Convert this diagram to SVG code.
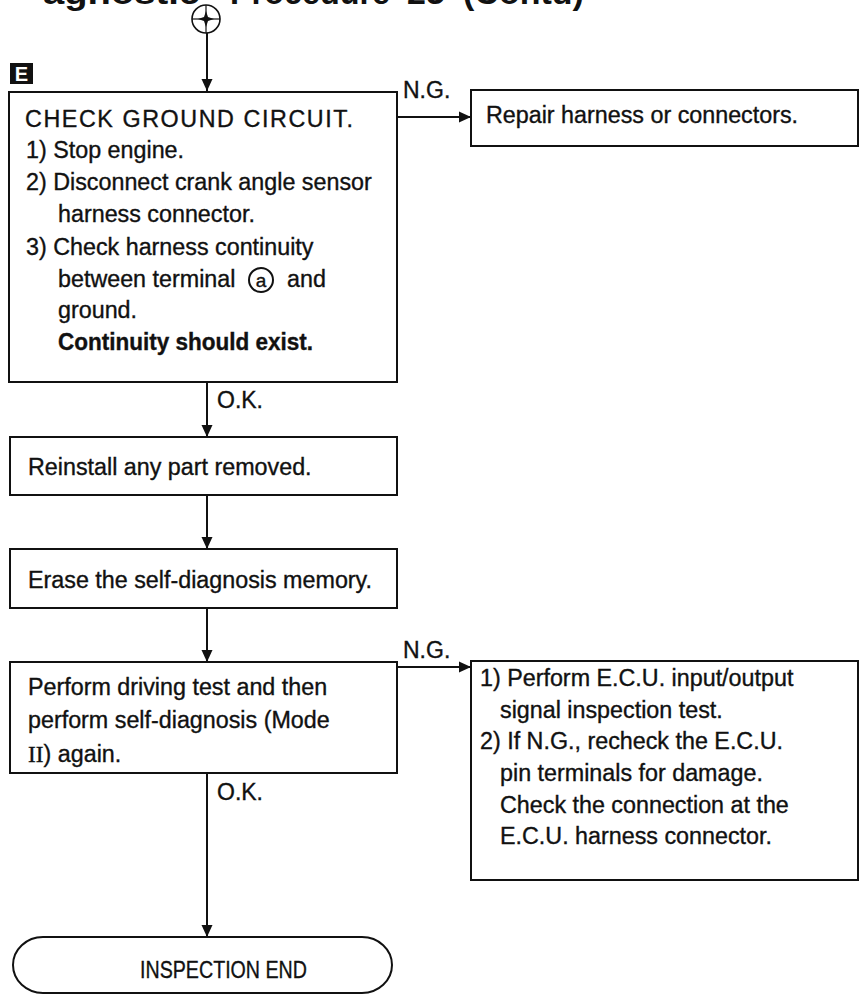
<svg xmlns="http://www.w3.org/2000/svg" width="862" height="994" viewBox="0 0 862 994">
<style>
.box{fill:#fff;stroke:#111;stroke-width:2}
.t{font-family:"Liberation Sans",Arial,sans-serif;font-size:23.3px;fill:#111;stroke:#111;stroke-width:0.35}
.b{font-weight:bold}
.ln{fill:none;stroke:#111;stroke-width:2}
.lbl{font-family:"Liberation Sans",Arial,sans-serif;font-size:23px;fill:#111;stroke:#111;stroke-width:0.35}
.ttl{font-family:"Liberation Sans",Arial,sans-serif;font-size:34px;font-weight:bold;fill:#111}
</style>
<defs>
<marker id="arr" viewBox="0 0 12 12" refX="12" refY="6" markerWidth="12" markerHeight="12" markerUnits="userSpaceOnUse" orient="auto">
<path d="M0,0.5 L12,6 L0,11.5 Z" fill="#111"/>
</marker>
</defs>
<rect width="862" height="994" fill="#fff"/>
<g id="title">
<text class="ttl" x="43" y="4" textLength="157" lengthAdjust="spacingAndGlyphs">agnostic</text>
<text class="ttl" x="230" y="4" textLength="160" lengthAdjust="spacingAndGlyphs">Procedure</text>
<text class="ttl" x="407" y="4">25</text>
<text class="ttl" x="463" y="4">(Contd)</text>
</g>

<g id="start">
<circle cx="206" cy="19" r="14" fill="#fff" stroke="#111" stroke-width="1.6"/>
<line x1="192" y1="19" x2="220" y2="19" stroke="#111" stroke-width="1.2"/>
<line x1="206" y1="5" x2="206" y2="33" stroke="#111" stroke-width="1.2"/>
<path d="M206,11 L208,17 L214,19 L208,21 L206,27 L204,21 L198,19 L204,17 Z" fill="#111"/>
</g>

<g id="badgeE">
<rect x="10" y="63" width="23" height="21" fill="#111"/>
<text x="21.5" y="81" style="font-family:'Liberation Sans',Arial,sans-serif;font-size:20px;font-weight:bold;fill:#fff" text-anchor="middle">E</text>
</g>

<g id="connectors">
<path class="ln" d="M207,33 V91" marker-end="url(#arr)"/>
<path class="ln" d="M397,117 H471" marker-end="url(#arr)"/>
<text class="lbl" x="403" y="98">N.G.</text>
<path class="ln" d="M207,382 V437" marker-end="url(#arr)"/>
<text class="lbl" x="217" y="408">O.K.</text>
<path class="ln" d="M207,495 V549" marker-end="url(#arr)"/>
<path class="ln" d="M207,608 V662" marker-end="url(#arr)"/>
<path class="ln" d="M397,667 H471" marker-end="url(#arr)"/>
<text class="lbl" x="403" y="658">N.G.</text>
<path class="ln" d="M207,773 V937" marker-end="url(#arr)"/>
<text class="lbl" x="217" y="800">O.K.</text>
</g>

<g id="checkGround">
<rect class="box" x="9" y="92" width="388" height="290"/>
<text class="t" x="25" y="127" textLength="328" lengthAdjust="spacing">CHECK GROUND CIRCUIT.</text>
<text class="t" x="26" y="158">1) Stop engine.</text>
<text class="t" x="26" y="190">2) Disconnect crank angle sensor</text>
<text class="t" x="58" y="222">harness connector.</text>
<text class="t" x="26" y="255">3) Check harness continuity</text>
<text class="t" x="58" y="287">between terminal</text>
<circle cx="261" cy="280" r="12" fill="none" stroke="#111" stroke-width="2"/>
<text class="t" x="261" y="287" text-anchor="middle" style="font-size:19px">a</text>
<text class="t" x="287" y="287">and</text>
<text class="t" x="58" y="318">ground.</text>
<text class="t b" x="58" y="350" textLength="255" lengthAdjust="spacingAndGlyphs">Continuity should exist.</text>
</g>

<g id="repair">
<rect class="box" x="471" y="90" width="387" height="56"/>
<text class="t" x="486" y="123">Repair harness or connectors.</text>
</g>

<g id="reinstall">
<rect class="box" x="10" y="437" width="387" height="58"/>
<text class="t" x="28" y="475">Reinstall any part removed.</text>
</g>

<g id="erase">
<rect class="box" x="10" y="549" width="387" height="59"/>
<text class="t" x="28" y="588">Erase the self-diagnosis memory.</text>
</g>

<g id="drivingTest">
<rect class="box" x="10" y="662" width="387" height="111"/>
<text class="t" x="28" y="695">Perform driving test and then</text>
<text class="t" x="28" y="728">perform self-diagnosis (Mode</text>
<text class="t" x="28" y="762"><tspan style="font-family:'Liberation Serif',serif">II</tspan>) again.</text>
</g>

<g id="ecuCheck">
<rect class="box" x="471" y="661" width="387" height="219"/>
<text class="t" x="480" y="686">1) Perform E.C.U. input/output</text>
<text class="t" x="500" y="718">signal inspection test.</text>
<text class="t" x="480" y="749">2) If N.G., recheck the E.C.U.</text>
<text class="t" x="500" y="781">pin terminals for damage.</text>
<text class="t" x="500" y="813">Check the connection at the</text>
<text class="t" x="500" y="844">E.C.U. harness connector.</text>
</g>

<g id="end">
<rect class="box" x="13" y="937" width="379" height="56" rx="30" ry="28"/>
<text class="t" x="140" y="978" style="font-size:24px" textLength="167" lengthAdjust="spacingAndGlyphs">INSPECTION END</text>
</g>
</svg>
